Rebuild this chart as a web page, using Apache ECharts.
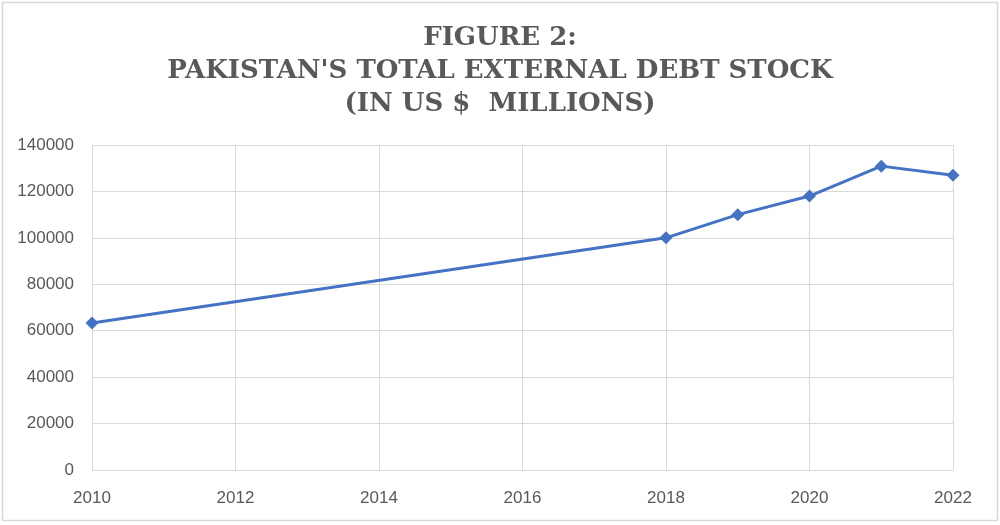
<!DOCTYPE html>
<html>
<head>
<meta charset="utf-8">
<script src="https://cdn.jsdelivr.net/npm/echarts@6/dist/echarts.min.js"></script>
<style>
  html, body { margin: 0; padding: 0; background: #fff; }
  #chart { width: 1000px; height: 525px; }
</style>
</head>
<body>
<div id="chart"></div>
<script>
  // years and external debt stock (US$ millions)
  var years = [2010, 2018, 2019, 2020, 2021, 2022];
  var debt = [63300, 100000, 110000, 118000, 130900, 127000];
  var titleLines = ['FIGURE 2:', "PAKISTAN'S TOTAL EXTERNAL DEBT STOCK", '(IN US $  MILLIONS)'];

  var chart = echarts.init(document.getElementById('chart'));
  var points = [];
  for (var i = 0; i < years.length; i++) {
    points.push([years[i], debt[i]]);
  }

  var option = {
    animation: false,
    backgroundColor: '#fff',
    title: {
      text: titleLines.join('\n'),
      left: 'center',
      top: 17,
      textStyle: {
        fontFamily: 'DejaVu Serif',
        fontWeight: 'bold',
        fontSize: 26,
        lineHeight: 33,
        color: '#595959'
      }
    },
    graphic: [{
      type: 'rect',
      shape: { x: 2.5, y: 2.5, width: 995, height: 518 },
      style: { fill: 'none', stroke: '#d9d9d9', lineWidth: 1.5 },
      silent: true
    }],
    grid: {
      left: 92,
      right: 47,
      top: 145,
      bottom: 55
    },
    xAxis: {
      type: 'value',
      min: 2010,
      max: 2022,
      interval: 2,
      axisLine: { show: true, lineStyle: { color: '#d9d9d9', width: 1 } },
      axisTick: { show: false },
      splitLine: { show: true, lineStyle: { color: '#d9d9d9', width: 1 } },
      axisLabel: {
        color: '#595959',
        fontFamily: 'Liberation Sans',
        fontSize: 17,
        margin: 20,
        formatter: function (v) { return String(v); }
      }
    },
    yAxis: {
      type: 'value',
      min: 0,
      max: 140000,
      interval: 20000,
      axisLine: { show: false },
      axisTick: { show: false },
      splitLine: { lineStyle: { color: '#d9d9d9', width: 1 } },
      axisLabel: {
        color: '#595959',
        fontFamily: 'Liberation Sans',
        fontSize: 17,
        margin: 18,
        formatter: function (v) { return String(v); }
      }
    },
    series: [{
      type: 'line',
      data: points,
      symbol: 'diamond',
      symbolSize: 13,
      lineStyle: { color: '#4472C4', width: 3 },
      itemStyle: { color: '#4472C4' }
    }]
  };
  chart.setOption(option);
</script>
</body>
</html>
